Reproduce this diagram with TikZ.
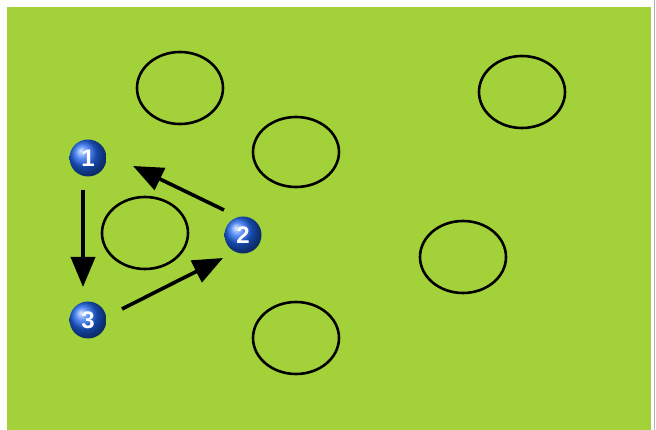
\documentclass[tikz,border=0pt]{standalone}
\usepackage{fontspec}
\setsansfont{Liberation Sans}
\usetikzlibrary{arrows.meta,calc}
\definecolor{field}{HTML}{A2D13A}
\definecolor{ballblue}{HTML}{1E66F0}
\tikzset{
  cone/.style={draw=black,line width=2.6pt},
  player/.style={circle,minimum size=37pt,inner sep=0pt,shading=ball,ball color=ballblue,
    text=white,font=\sffamily\bfseries\fontsize{24}{24}\selectfont},
  run/.style={line width=3.6pt,-{Triangle[length=30pt,width=24pt]}}
}
\begin{document}
\begin{tikzpicture}[x=1pt,y=-1pt]
\useasboundingbox (0,0) rectangle (656,430);
\fill[white] (0,0) rectangle (656,430);
\fill[field] (7,7) rectangle (651,430);
\draw[gray!60,line width=1pt] (654.5,0) -- (654.5,430);
% cones
\draw[cone] (180,88) ellipse [x radius=43,y radius=36];
\draw[cone] (296,152) ellipse [x radius=43,y radius=35];
\draw[cone] (522,92) ellipse [x radius=43,y radius=36];
\draw[cone] (145,233) ellipse [x radius=43,y radius=36];
\draw[cone] (463,257) ellipse [x radius=43,y radius=36];
\draw[cone] (296,338) ellipse [x radius=43,y radius=36];
% players
\node[player] (b1) at (88,158) {1};
\node[player] (b2) at (243,235) {2};
\node[player] (b3) at (88,320) {3};
% runs
\draw[run] ($(b1)+(-5,32)$) -- ($(b3)+(-5,-33)$);
\draw[run] ($(b2)+(-19,-25)$) -- ($(b1)+(45,8)$);
\draw[run] ($(b3)+(34,-11)$) -- ($(b2)+(-20,23)$);
\end{tikzpicture}
\end{document}
